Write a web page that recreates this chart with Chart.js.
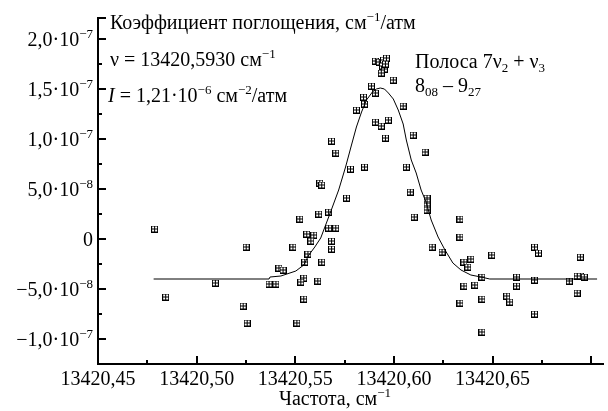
<!DOCTYPE html>
<html>
<head>
<meta charset="utf-8">
<script src="https://cdn.jsdelivr.net/npm/chart.js@4.4.0/dist/chart.umd.min.js"></script>
<style>
  html, body { margin: 0; padding: 0; background: #fff; }
  #probe { position: absolute; left: -1000px; top: 0; font-family: "Liberation Serif"; font-size: 20px; }
</style>
</head>
<body>
<span id="probe">Коэффициент 13420,45 ν</span>
<canvas id="chart" width="608" height="411"></canvas>
<script>
// axis ticks
const xMajor = [13420.45, 13420.50, 13420.55, 13420.60, 13420.65, 13420.70];
const xLabels = ['13420,45', '13420,50', '13420,55', '13420,60', '13420,65', ''];
const xMinor = [13420.475, 13420.525, 13420.575, 13420.625, 13420.675];
const yMajor = [-1e-7, -5e-8, 0, 5e-8, 1e-7, 1.5e-7, 2e-7];
const yLabels = [['−1,0·10', '−7'], ['−5,0·10', '−8'], ['0', ''], ['5,0·10', '−8'],
                 ['1,0·10', '−7'], ['1,5·10', '−7'], ['2,0·10', '−7']];
const yMinor = [-7.5e-8, -2.5e-8, 2.5e-8, 7.5e-8, 1.25e-7, 1.75e-7];

// measured points
const pointX = [
  13420.4787, 13420.4843, 13420.5095, 13420.5251, 13420.5236, 13420.5256, 13420.5488, 13420.5417,
  13420.5438, 13420.5367, 13420.5402, 13420.5508, 13420.5543, 13420.5528, 13420.5543, 13420.5614,
  13420.5548, 13420.5564, 13420.5634, 13420.5558, 13420.5594, 13420.5579, 13420.5523, 13420.5684,
  13420.5684, 13420.5619, 13420.5669, 13420.5669, 13420.5705, 13420.5624, 13420.5634, 13420.5810,
  13420.5684, 13420.5705, 13420.5780, 13420.5851, 13420.5760,
  13420.5906, 13420.5926, 13420.5947, 13420.5962, 13420.5942, 13420.5952, 13420.5936, 13420.5957,
  13420.5997, 13420.5886, 13420.5906, 13420.5846, 13420.5851, 13420.6047, 13420.5906, 13420.5936,
  13420.5972, 13420.5957, 13420.6098, 13420.6158, 13420.6063, 13420.6083,
  13420.6168, 13420.6168, 13420.6168, 13420.6168,
  13420.6103, 13420.6335, 13420.6335, 13420.6194, 13420.6244, 13420.6355, 13420.6390, 13420.6375,
  13420.6496, 13420.6713, 13420.6733, 13420.6945, 13420.6446, 13420.6622, 13420.6622, 13420.6713,
  13420.6929, 13420.6945, 13420.6965, 13420.6889, 13420.6929, 13420.6355, 13420.6410, 13420.6572,
  13420.6587, 13420.6335, 13420.6446, 13420.6713, 13420.6446
];
const pointY = [
  1.0e-8, -5.8e-8, -4.4e-8, -0.8e-8, -6.7e-8, -8.4e-8, -0.8e-8, -2.9e-8,
  -3.1e-8, -4.5e-8, -4.5e-8, -8.4e-8, -3.9e-8, -4.3e-8, -6.0e-8, -4.2e-8,
  -2.3e-8, -1.5e-8, -2.3e-8, 0.5e-8, 0.4e-8, -0.2e-8, 2.0e-8, -0.2e-8,
  -1.0e-8, 2.5e-8, 2.7e-8, 1.1e-8, 1.1e-8, 5.6e-8, 5.4e-8, 12.9e-8,
  9.8e-8, 8.6e-8, 7.0e-8, 7.2e-8, 4.1e-8,
  17.8e-8, 17.7e-8, 17.9e-8, 18.1e-8, 17.3e-8, 17.0e-8, 16.6e-8, 17.5e-8,
  15.9e-8, 15.3e-8, 14.6e-8, 14.2e-8, 13.5e-8, 13.3e-8, 11.7e-8, 11.3e-8,
  11.9e-8, 10.1e-8, 10.4e-8, 8.7e-8, 7.2e-8, 4.7e-8,
  4.1e-8, 3.7e-8, 3.3e-8, 2.9e-8,
  2.2e-8, 2.0e-8, 0.2e-8, -0.8e-8, -1.3e-8, -2.3e-8, -2.0e-8, -2.8e-8,
  -1.6e-8, -0.8e-8, -1.4e-8, -1.8e-8, -3.8e-8, -3.8e-8, -4.7e-8, -4.1e-8,
  -3.7e-8, -3.7e-8, -3.8e-8, -4.2e-8, -5.4e-8, -4.7e-8, -4.6e-8, -5.7e-8,
  -6.3e-8, -6.4e-8, -6.0e-8, -7.5e-8, -9.3e-8
];

// fitted profile
const fitX = [
  13420.4782, 13420.5367, 13420.5372, 13420.5427, 13420.5503, 13420.5543, 13420.5569, 13420.5599,
  13420.5629, 13420.5654, 13420.5679, 13420.5720, 13420.5755, 13420.5785, 13420.5810, 13420.5836,
  13420.5861, 13420.5891, 13420.5911, 13420.5931, 13420.5952, 13420.5972, 13420.5997, 13420.6022,
  13420.6047, 13420.6063, 13420.6088, 13420.6113, 13420.6138, 13420.6163, 13420.6189, 13420.6224,
  13420.6259, 13420.6299, 13420.6340, 13420.6390, 13420.6441, 13420.6486, 13420.7030
];
const fitY = [
  -4.0e-8, -4.0e-8, -3.8e-8, -3.7e-8, -3.2e-8, -2.6e-8, -1.6e-8, -0.8e-8,
  0.1e-8, 1.4e-8, 2.7e-8, 4.9e-8, 7.2e-8, 9.4e-8, 11.2e-8, 12.7e-8,
  13.9e-8, 14.7e-8, 15.0e-8, 15.1e-8, 15.0e-8, 14.6e-8, 14.0e-8, 12.9e-8,
  11.5e-8, 9.9e-8, 7.9e-8, 6.6e-8, 4.9e-8, 3.7e-8, 1.9e-8, 0.2e-8,
  -1.1e-8, -2.4e-8, -3.1e-8, -3.6e-8, -3.8e-8, -4.0e-8, -4.0e-8
];

const FONT = '"Liberation Serif", "DejaVu Serif", serif';

function makeMarker() {
  const c = document.createElement('canvas');
  c.width = 7; c.height = 7;
  const g = c.getContext('2d');
  g.fillStyle = '#fff';
  g.fillRect(0, 0, 7, 7);
  g.strokeStyle = '#000';
  g.lineWidth = 1;
  g.strokeRect(0.5, 0.5, 6, 6);
  g.beginPath();
  g.moveTo(3.5, 0); g.lineTo(3.5, 7);
  g.moveTo(0, 3.5); g.lineTo(7, 3.5);
  g.stroke();
  return c;
}

// parts: [text, kind] where kind is '', 'sup', 'sub' or 'i'
function rich(ctx, x, y, parts, align, size) {
  size = size || 20;
  const small = Math.round(size * 0.65);
  const fontOf = k => (k === 'sup' || k === 'sub') ? small + 'px ' + FONT
                    : (k === 'i' ? 'italic ' + size + 'px ' + FONT : size + 'px ' + FONT);
  let w = 0;
  parts.forEach(p => { ctx.font = fontOf(p[1]); w += ctx.measureText(p[0]).width; });
  let cx = align === 'right' ? x - w : (align === 'center' ? x - w / 2 : x);
  ctx.textAlign = 'left';
  ctx.textBaseline = 'alphabetic';
  parts.forEach(p => {
    ctx.font = fontOf(p[1]);
    const dy = p[1] === 'sup' ? -Math.round(size * 0.4) : (p[1] === 'sub' ? Math.round(size * 0.2) : 0);
    ctx.fillText(p[0], cx, y + dy);
    cx += ctx.measureText(p[0]).width;
  });
}

const decor = {
  id: 'decor',
  afterDraw(chart) {
    const ctx = chart.ctx;
    const xs = chart.scales.x, ys = chart.scales.y;
    const left = chart.chartArea.left, bottom = chart.chartArea.bottom, top = chart.chartArea.top;
    ctx.save();
    ctx.fillStyle = '#000';
    ctx.strokeStyle = '#000';
    ctx.lineWidth = 2;
    ctx.beginPath();
    xMajor.forEach(v => { const px = Math.round(xs.getPixelForValue(v)); ctx.moveTo(px, bottom); ctx.lineTo(px, bottom - 8); });
    xMinor.forEach(v => { const px = Math.round(xs.getPixelForValue(v)); ctx.moveTo(px, bottom); ctx.lineTo(px, bottom - 4); });
    yMajor.forEach(v => { const py = Math.round(ys.getPixelForValue(v)); ctx.moveTo(left, py); ctx.lineTo(left + 8, py); });
    yMinor.forEach(v => { const py = Math.round(ys.getPixelForValue(v)); ctx.moveTo(left, py); ctx.lineTo(left + 4, py); });
    ctx.moveTo(left, top); ctx.lineTo(left + 8, top);
    ctx.stroke();

    xMajor.forEach((v, i) => {
      if (!xLabels[i]) return;
      rich(ctx, xs.getPixelForValue(v), 385, [[xLabels[i], '']], 'center');
    });
    yMajor.forEach((v, i) => {
      const parts = [[yLabels[i][0], '']];
      if (yLabels[i][1]) parts.push([yLabels[i][1], 'sup']);
      rich(ctx, 93, ys.getPixelForValue(v) + 7, parts, 'right');
    });

    rich(ctx, 335, 405, [['Частота, см', ''], ['−1', 'sup']], 'center');
    rich(ctx, 110, 29, [['Коэффициент поглощения, см', ''], ['−1', 'sup'], ['/атм', '']], 'left');
    rich(ctx, 110, 66, [['ν = 13420,5930 см', ''], ['−1', 'sup']], 'left');
    rich(ctx, 108, 102, [['I', 'i'], [' = 1,21·10', ''], ['−6', 'sup'], [' см', ''], ['−2', 'sup'], ['/атм', '']], 'left');
    rich(ctx, 415, 68, [['Полоса 7ν', ''], ['2', 'sub'], [' + ν', ''], ['3', 'sub']], 'left');
    rich(ctx, 415, 92, [['8', ''], ['08', 'sub'], [' – 9', ''], ['27', 'sub']], 'left');
    ctx.restore();
  }
};

function build() {
  const marker = makeMarker();
  new Chart(document.getElementById('chart'), {
    type: 'scatter',
    data: {
      datasets: [
        {
          label: 'fit',
          data: fitX.map((x, i) => ({ x: x, y: fitY[i] })),
          showLine: true,
          borderColor: '#000',
          borderWidth: 1,
          pointRadius: 0,
          fill: false
        },
        {
          label: 'points',
          data: pointX.map((x, i) => ({ x: x, y: pointY[i] })),
          showLine: false,
          pointStyle: marker,
          pointRadius: 3.5
        }
      ]
    },
    options: {
      responsive: false,
      animation: false,
      layout: { padding: { left: 0, right: 2, top: 18, bottom: 0 } },
      plugins: { legend: { display: false }, tooltip: { enabled: false } },
      scales: {
        x: {
          type: 'linear',
          min: 13420.45,
          max: 13420.706,
          grid: { display: false },
          border: { display: true, color: '#000', width: 2 },
          ticks: { display: false },
          afterFit: s => { s.height = 47; }
        },
        y: {
          type: 'linear',
          min: -1.25e-7,
          max: 2.21e-7,
          grid: { display: false },
          border: { display: true, color: '#000', width: 2 },
          ticks: { display: false },
          afterFit: s => { s.width = 98; }
        }
      }
    },
    plugins: [decor]
  });
}

if (document.fonts && document.fonts.load) {
  Promise.all([
    document.fonts.load('20px "Liberation Serif"'),
    document.fonts.load('italic 20px "Liberation Serif"')
  ]).then(build, build);
} else {
  build();
}
</script>
</body>
</html>
